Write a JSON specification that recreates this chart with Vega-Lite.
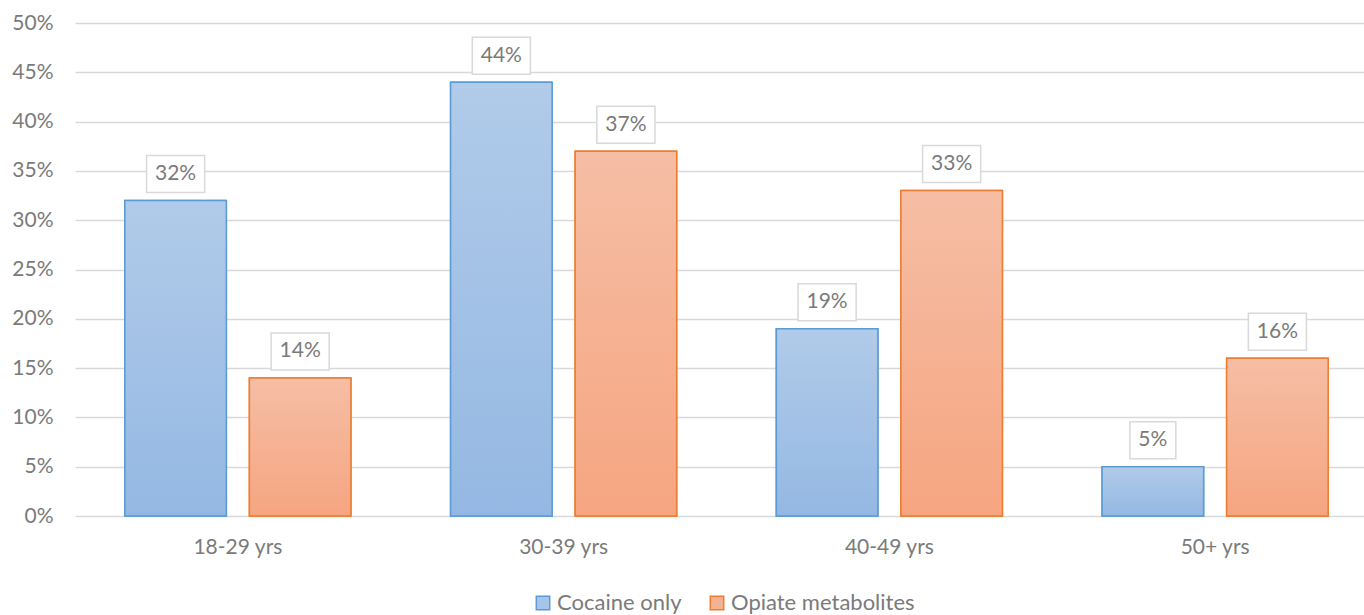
{
  "$schema": "https://vega.github.io/schema/vega-lite/v6.json",
  "width": 1289,
  "height": 493,
  "autosize": "none",
  "padding": {"left": 75, "top": 23, "right": 0, "bottom": 99},
  "background": "white",
  "config": {"view": {"stroke": null}, "font": "Lato"},
  "data": {
    "values": [
      {"age": "18-29 yrs", "series": "Cocaine only", "share": 0.32},
      {"age": "18-29 yrs", "series": "Opiate metabolites", "share": 0.14},
      {"age": "30-39 yrs", "series": "Cocaine only", "share": 0.44},
      {"age": "30-39 yrs", "series": "Opiate metabolites", "share": 0.37},
      {"age": "40-49 yrs", "series": "Cocaine only", "share": 0.19},
      {"age": "40-49 yrs", "series": "Opiate metabolites", "share": 0.33},
      {"age": "50+ yrs", "series": "Cocaine only", "share": 0.05},
      {"age": "50+ yrs", "series": "Opiate metabolites", "share": 0.16}
    ]
  },
  "encoding": {
    "x": {
      "field": "age",
      "type": "nominal",
      "sort": ["18-29 yrs", "30-39 yrs", "40-49 yrs", "50+ yrs"],
      "scale": {"paddingInner": 0.306, "paddingOuter": 0.153, "range": [0, 1303]},
      "axis": {
        "title": null,
        "labelAngle": 0,
        "domain": false,
        "ticks": false,
        "labelPadding": 20,
        "labelFontSize": 21,
        "labelColor": "#7a7a7a"
      }
    },
    "xOffset": {
      "field": "series",
      "sort": ["Cocaine only", "Opiate metabolites"],
      "scale": {"paddingInner": 0.185, "paddingOuter": 0}
    },
    "y": {
      "field": "share",
      "type": "quantitative",
      "scale": {"domain": [0, 0.5], "nice": false},
      "axis": {
        "title": null,
        "values": [0, 0.05, 0.1, 0.15, 0.2, 0.25, 0.3, 0.35, 0.4, 0.45, 0.5],
        "format": ".0%",
        "domain": false,
        "ticks": false,
        "labelPadding": 22,
        "labelFontSize": 21,
        "labelColor": "#7a7a7a",
        "gridColor": "#d9d9d9",
        "gridWidth": 1.5
      }
    }
  },
  "layer": [
    {
      "mark": {"type": "bar", "strokeWidth": 1.5},
      "encoding": {
        "fill": {
          "field": "series",
          "type": "nominal",
          "scale": {"domain": ["Cocaine only", "Opiate metabolites"], "range": ["#a6c4e7", "#f5b293"]},
          "legend": {
            "title": null,
            "orient": "none",
            "legendX": 457,
            "legendY": 569,
            "direction": "horizontal",
            "symbolType": "square",
            "symbolSize": 180,
            "symbolStrokeWidth": 1.5,
            "labelFontSize": 22,
            "labelLimit": 400,
            "labelColor": "#7a7a7a",
            "labelOffset": 3,
            "columnPadding": 24
          }
        },
        "stroke": {
          "field": "series",
          "type": "nominal",
          "scale": {"domain": ["Cocaine only", "Opiate metabolites"], "range": ["#5b9bd5", "#ed7d31"]},
          "legend": {
            "title": null,
            "orient": "none",
            "legendX": 457,
            "legendY": 569,
            "direction": "horizontal",
            "symbolType": "square",
            "symbolSize": 180,
            "symbolStrokeWidth": 1.5,
            "labelFontSize": 22,
            "labelLimit": 400,
            "labelColor": "#7a7a7a",
            "labelOffset": 3,
            "columnPadding": 24
          }
        }
      }
    },
    {
      "mark": {"type": "bar", "strokeWidth": 1.5},
      "encoding": {
        "fill": {
          "condition": {
            "test": "datum.series === 'Cocaine only'",
            "value": {
              "gradient": "linear", "x1": 0, "y1": 0, "x2": 0, "y2": 1,
              "stops": [{"offset": 0, "color": "#b1cbe9"}, {"offset": 1, "color": "#94b8e3"}]
            }
          },
          "value": {
            "gradient": "linear", "x1": 0, "y1": 0, "x2": 0, "y2": 1,
            "stops": [{"offset": 0, "color": "#f5bea5"}, {"offset": 1, "color": "#f6a580"}]
          }
        },
        "stroke": {"field": "series", "type": "nominal"}
      }
    },
    {
      "mark": {
        "type": "point",
        "filled": true,
        "fill": "white",
        "stroke": "#d9d9d9",
        "strokeWidth": 1.5,
        "opacity": 1,
        "size": 1369,
        "yOffset": -26.5
      },
      "encoding": {
        "shape": {
          "condition": {"test": "datum.share < 0.1", "value": "M-1.24,-1L1.24,-1L1.24,1L-1.24,1Z"},
          "value": "M-1.57,-1L1.57,-1L1.57,1L-1.57,1Z"
        }
      }
    },
    {
      "mark": {"type": "text", "yOffset": -26.5, "fontSize": 21, "color": "#7a7a7a", "baseline": "middle"},
      "encoding": {"text": {"field": "share", "type": "quantitative", "format": ".0%"}}
    }
  ]
}
